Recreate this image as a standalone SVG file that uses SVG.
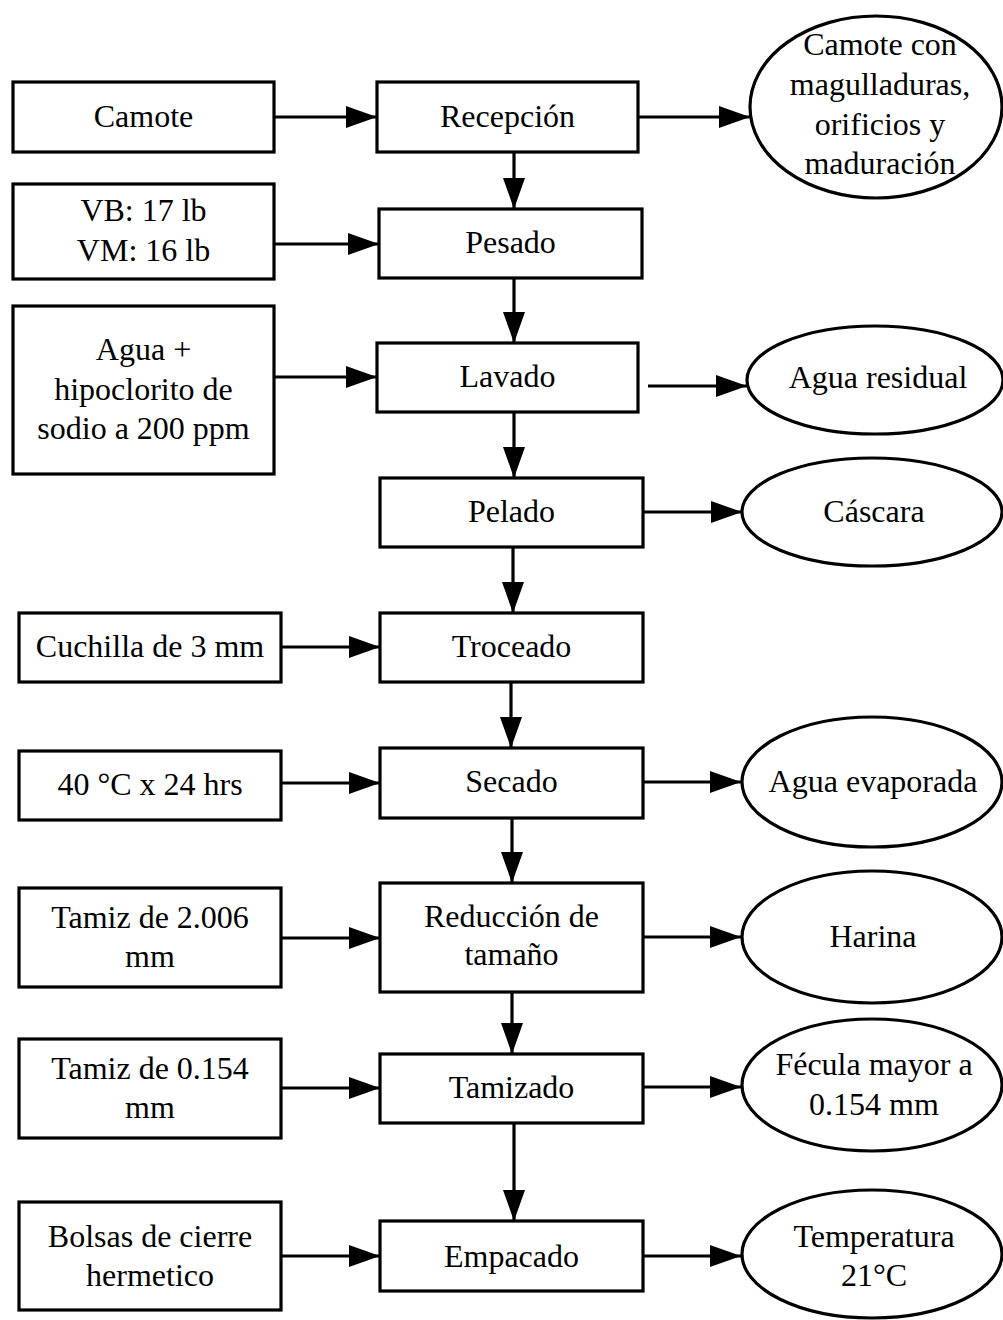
<svg xmlns="http://www.w3.org/2000/svg" width="1003" height="1320" viewBox="0 0 1003 1320">
  <style>
    .box { fill: #ffffff; stroke: #000000; stroke-width: 3.2; }
    .oval { fill: #ffffff; stroke: #000000; stroke-width: 3.2; }
    .lbl { font-family: "Liberation Serif", "Times New Roman", serif; font-size: 32px; fill: #000000; text-anchor: middle; }
    .link { stroke: #000000; stroke-width: 3.2; fill: none; marker-end: url(#head); }
  </style>
  <defs>
    <marker id="head" markerUnits="userSpaceOnUse" markerWidth="31" markerHeight="22" refX="31" refY="11" orient="auto">
      <path d="M0,0 L31,11 L0,22 z" fill="#000000"/>
    </marker>
  </defs>
  <rect width="1003" height="1320" fill="#ffffff"/>

  <!-- connectors -->
  <g id="connectors">
    <!-- inputs into process steps -->
    <line class="link" x1="274" y1="117" x2="377" y2="117"/>
    <line class="link" x1="274" y1="244" x2="379" y2="244"/>
    <line class="link" x1="274" y1="377" x2="377" y2="377"/>
    <line class="link" x1="281" y1="647" x2="380" y2="647"/>
    <line class="link" x1="281" y1="783" x2="380" y2="783"/>
    <line class="link" x1="281" y1="938" x2="380" y2="938"/>
    <line class="link" x1="281" y1="1088" x2="380" y2="1088"/>
    <line class="link" x1="281" y1="1256" x2="380" y2="1256"/>
    <!-- main vertical flow -->
    <line class="link" x1="514" y1="152" x2="514" y2="209"/>
    <line class="link" x1="514" y1="278" x2="514" y2="343"/>
    <line class="link" x1="514" y1="412" x2="514" y2="478"/>
    <line class="link" x1="513" y1="547" x2="513" y2="613"/>
    <line class="link" x1="511" y1="682" x2="511" y2="748"/>
    <line class="link" x1="512" y1="818" x2="512" y2="883"/>
    <line class="link" x1="512" y1="992" x2="512" y2="1054"/>
    <line class="link" x1="514" y1="1123" x2="514" y2="1221"/>
    <!-- outputs -->
    <line class="link" x1="638" y1="117" x2="750" y2="117"/>
    <line class="link" x1="648" y1="386" x2="747" y2="386"/>
    <line class="link" x1="643" y1="512" x2="742" y2="512"/>
    <line class="link" x1="643" y1="782" x2="741" y2="782"/>
    <line class="link" x1="643" y1="937" x2="741" y2="937"/>
    <line class="link" x1="643" y1="1087" x2="741" y2="1087"/>
    <line class="link" x1="643" y1="1256" x2="741" y2="1256"/>
  </g>

  <!-- input boxes -->
  <g id="in-camote">
    <rect class="box" x="13" y="82" width="261" height="70"/>
    <text class="lbl" x="143.5" y="127">Camote</text>
  </g>
  <g id="in-peso">
    <rect class="box" x="13" y="184" width="261" height="95"/>
    <text class="lbl" x="143.5" y="221">VB: 17 lb</text>
    <text class="lbl" x="143.5" y="261">VM: 16 lb</text>
  </g>
  <g id="in-agua">
    <rect class="box" x="13" y="306" width="261" height="168"/>
    <text class="lbl" x="143.5" y="360">Agua +</text>
    <text class="lbl" x="143.5" y="400">hipoclorito de</text>
    <text class="lbl" x="143.5" y="439">sodio a 200 ppm</text>
  </g>
  <g id="in-cuchilla">
    <rect class="box" x="19" y="613" width="262" height="69"/>
    <text class="lbl" x="150" y="657">Cuchilla de 3 mm</text>
  </g>
  <g id="in-temp">
    <rect class="box" x="19" y="751" width="262" height="69"/>
    <text class="lbl" x="150" y="795">40 °C x 24 hrs</text>
  </g>
  <g id="in-tamiz1">
    <rect class="box" x="19" y="888" width="262" height="99"/>
    <text class="lbl" x="150" y="928">Tamiz de 2.006</text>
    <text class="lbl" x="150" y="967">mm</text>
  </g>
  <g id="in-tamiz2">
    <rect class="box" x="19" y="1039" width="262" height="99"/>
    <text class="lbl" x="150" y="1079">Tamiz de 0.154</text>
    <text class="lbl" x="150" y="1118">mm</text>
  </g>
  <g id="in-bolsas">
    <rect class="box" x="19" y="1202" width="262" height="108"/>
    <text class="lbl" x="150" y="1247">Bolsas de cierre</text>
    <text class="lbl" x="150" y="1286">hermetico</text>
  </g>

  <!-- process steps -->
  <g id="recepcion">
    <rect class="box" x="377" y="82" width="261" height="70"/>
    <text class="lbl" x="507.5" y="127">Recepción</text>
  </g>
  <g id="pesado">
    <rect class="box" x="379" y="209" width="263" height="69"/>
    <text class="lbl" x="510.5" y="253">Pesado</text>
  </g>
  <g id="lavado">
    <rect class="box" x="377" y="343" width="261" height="69"/>
    <text class="lbl" x="507.5" y="387">Lavado</text>
  </g>
  <g id="pelado">
    <rect class="box" x="380" y="478" width="263" height="69"/>
    <text class="lbl" x="511.5" y="522">Pelado</text>
  </g>
  <g id="troceado">
    <rect class="box" x="380" y="613" width="263" height="69"/>
    <text class="lbl" x="511.5" y="657">Troceado</text>
  </g>
  <g id="secado">
    <rect class="box" x="380" y="748" width="263" height="70"/>
    <text class="lbl" x="511.5" y="792">Secado</text>
  </g>
  <g id="reduccion">
    <rect class="box" x="380" y="883" width="263" height="109"/>
    <text class="lbl" x="511.5" y="927">Reducción de</text>
    <text class="lbl" x="511.5" y="965">tamaño</text>
  </g>
  <g id="tamizado">
    <rect class="box" x="380" y="1054" width="263" height="69"/>
    <text class="lbl" x="511.5" y="1098">Tamizado</text>
  </g>
  <g id="empacado">
    <rect class="box" x="380" y="1221" width="263" height="70"/>
    <text class="lbl" x="511.5" y="1267">Empacado</text>
  </g>

  <!-- outputs -->
  <g id="out-rechazo">
    <ellipse class="oval" cx="876" cy="107" rx="126" ry="91"/>
    <text class="lbl" x="880" y="55">Camote con</text>
    <text class="lbl" x="880" y="95">magulladuras,</text>
    <text class="lbl" x="880" y="135">orificios y</text>
    <text class="lbl" x="880" y="174">maduración</text>
  </g>
  <g id="out-agua-residual">
    <ellipse class="oval" cx="875" cy="380" rx="128" ry="54"/>
    <text class="lbl" x="878" y="388">Agua residual</text>
  </g>
  <g id="out-cascara">
    <ellipse class="oval" cx="872" cy="512" rx="130" ry="54"/>
    <text class="lbl" x="874" y="522">Cáscara</text>
  </g>
  <g id="out-agua-evaporada">
    <ellipse class="oval" cx="872" cy="782" rx="130" ry="65"/>
    <text class="lbl" x="873" y="792">Agua evaporada</text>
  </g>
  <g id="out-harina">
    <ellipse class="oval" cx="872" cy="937" rx="130" ry="66"/>
    <text class="lbl" x="873" y="947">Harina</text>
  </g>
  <g id="out-fecula">
    <ellipse class="oval" cx="872" cy="1085" rx="130" ry="66"/>
    <text class="lbl" x="874" y="1075">Fécula mayor a</text>
    <text class="lbl" x="874" y="1115">0.154 mm</text>
  </g>
  <g id="out-temperatura">
    <ellipse class="oval" cx="872" cy="1254" rx="130" ry="64"/>
    <text class="lbl" x="874" y="1247">Temperatura</text>
    <text class="lbl" x="874" y="1286">21°C</text>
  </g>
</svg>
